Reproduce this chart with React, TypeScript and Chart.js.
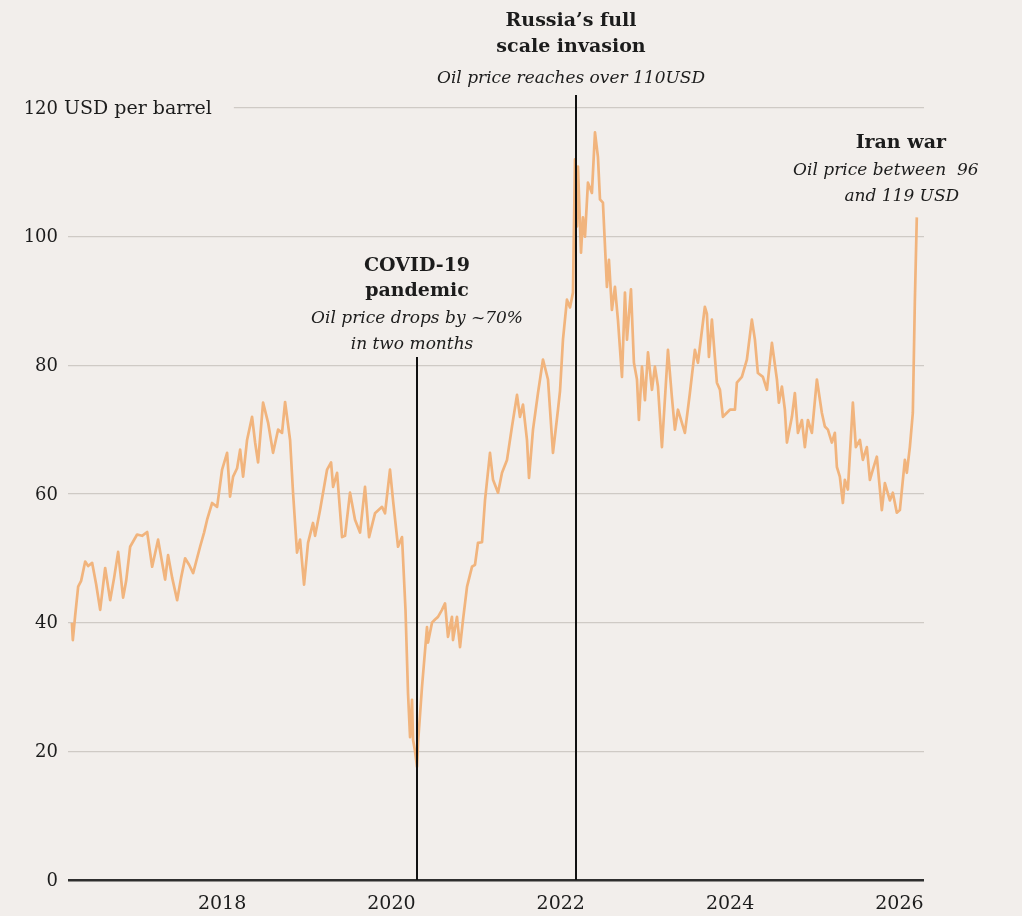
import React, { useEffect, useRef } from "react";
import { Chart, registerables } from "chart.js";

Chart.register(...registerables);

// ---- DATA (weekly-ish oil price, USD per barrel) ----
const dates: number[] = [
  2016.226, 2016.237, 2016.264, 2016.300, 2016.335, 2016.383, 2016.418, 2016.465, 2016.512, 2016.560,
  2016.619, 2016.678, 2016.725, 2016.772, 2016.831, 2016.867, 2016.914, 2016.996, 2017.055, 2017.115,
  2017.174, 2017.244, 2017.327, 2017.362, 2017.410, 2017.469, 2017.516, 2017.563, 2017.610, 2017.658,
  2017.740, 2017.787, 2017.823, 2017.882, 2017.941, 2018.000, 2018.059, 2018.094, 2018.130, 2018.177,
  2018.213, 2018.248, 2018.295, 2018.354, 2018.390, 2018.425, 2018.484, 2018.543, 2018.602, 2018.661,
  2018.708, 2018.744, 2018.803, 2018.838, 2018.885, 2018.921, 2018.968, 2019.015, 2019.074, 2019.098,
  2019.157, 2019.240, 2019.287, 2019.311, 2019.358, 2019.417, 2019.452, 2019.511, 2019.570, 2019.629,
  2019.688, 2019.736, 2019.806, 2019.889, 2019.924, 2019.983, 2020.019, 2020.078, 2020.125, 2020.166,
  2020.196, 2020.220, 2020.243, 2020.255, 2020.279, 2020.302, 2020.314, 2020.361, 2020.420, 2020.432,
  2020.479, 2020.515, 2020.550, 2020.597, 2020.633, 2020.668, 2020.715, 2020.727, 2020.774, 2020.810,
  2020.845, 2020.893, 2020.952, 2020.987, 2021.022, 2021.070, 2021.105, 2021.164, 2021.200, 2021.259,
  2021.306, 2021.365, 2021.424, 2021.483, 2021.518, 2021.554, 2021.601, 2021.625, 2021.672, 2021.731,
  2021.790, 2021.849, 2021.908, 2021.967, 2021.991, 2022.026, 2022.073, 2022.109, 2022.144, 2022.168,
  2022.191, 2022.203, 2022.239, 2022.262, 2022.286, 2022.321, 2022.368, 2022.404, 2022.439, 2022.463,
  2022.498, 2022.545, 2022.569, 2022.604, 2022.640, 2022.675, 2022.723, 2022.758, 2022.782, 2022.829,
  2022.864, 2022.900, 2022.923, 2022.959, 2022.994, 2023.030, 2023.077, 2023.112, 2023.148, 2023.195,
  2023.266, 2023.313, 2023.348, 2023.384, 2023.466, 2023.525, 2023.584, 2023.620, 2023.702, 2023.726,
  2023.750, 2023.785, 2023.844, 2023.880, 2023.915, 2023.998, 2024.057, 2024.080, 2024.139, 2024.198,
  2024.257, 2024.293, 2024.328, 2024.387, 2024.435, 2024.494, 2024.553, 2024.576, 2024.612, 2024.647,
  2024.671, 2024.730, 2024.765, 2024.801, 2024.848, 2024.883, 2024.919, 2024.966, 2025.025, 2025.084,
  2025.119, 2025.155, 2025.202, 2025.237, 2025.261, 2025.296, 2025.332, 2025.355, 2025.391, 2025.450,
  2025.485, 2025.533, 2025.568, 2025.615, 2025.651, 2025.686, 2025.733, 2025.792, 2025.828, 2025.887,
  2025.922, 2025.969, 2026.005, 2026.064, 2026.087, 2026.123, 2026.158, 2026.182, 2026.205,
];

const prices: number[] = [
  40, 37.3, 41, 45.6, 46.5, 49.5, 48.8, 49.3, 46, 42,
  48.5, 43.5, 47, 51, 43.9, 46.5, 51.8, 53.7, 53.5, 54.1,
  48.7, 52.9, 46.7, 50.5, 47, 43.5, 47, 50, 49, 47.7,
  51.8, 54, 56, 58.6, 58, 63.8, 66.4, 59.6, 62.7, 64,
  66.9, 62.7, 68.4, 72, 68, 64.9, 74.2, 71.1, 66.4, 70,
  69.5, 74.3, 68.4, 60.2, 50.9, 52.9, 45.9, 52.4, 55.5, 53.5,
  57.5, 63.8, 64.9, 61.1, 63.3, 53.3, 53.5, 60.2, 56, 54,
  61.1, 53.3, 57, 58, 57, 63.8, 59, 51.8, 53.3, 42,
  29, 22.2, 28, 21.8, 20, 17.6, 21.3, 30, 39.3, 36.9,
  40, 40.5, 40.9, 42, 43, 37.8, 40.9, 37.3, 40.9, 36.2,
  40.4, 45.6, 48.7, 49, 52.4, 52.5, 59, 66.4, 62.2, 60.2,
  63.3, 65.3, 70.5, 75.4, 72, 73.9, 68.4, 62.5, 70, 75.7,
  80.9, 77.8, 66.4, 73.1, 76, 84, 90.2, 89, 91.3, 112,
  101.6, 110.9, 97.5, 103, 100, 108.4, 106.8, 116.2, 112.4, 105.8,
  105.3, 92.2, 96.4, 88.6, 92.2, 87.1, 78.2, 91.3, 84, 91.8,
  80.4, 77.8, 71.5, 79.8, 74.6, 82, 76.2, 79.8, 76.7, 67.3,
  82.4, 75, 70, 73.1, 69.5, 75.7, 82.4, 80.4, 89.1, 88,
  81.3, 87.1, 77.3, 76.2, 72, 73.1, 73.1, 77.3, 78.2, 80.9,
  87.1, 84, 78.8, 78.2, 76.2, 83.5, 77.8, 74.2, 76.7, 73.1,
  68, 72, 75.7, 69.5, 71.5, 67.3, 71.5, 69.5, 77.8, 72.6,
  70.5, 70, 68, 69.5, 64.2, 62.7, 58.6, 62.2, 60.7, 74.2,
  67.3, 68.4, 65.3, 67.3, 62.2, 63.8, 65.8, 57.5, 61.7, 59,
  60.2, 57.1, 57.5, 65.3, 63.3, 67.3, 72.6, 90, 103,
];

const yTicks: number[] = [0, 20, 40, 60, 80, 100, 120];
const yearTicks: number[] = [2018, 2020, 2022, 2024, 2026];
const yUnit = "USD per barrel";

const eventDates: number[] = [2020.302, 2022.18];

// ---- STYLE ----
const BG = "#f2eeeb";
const LINE = "#f1b47d";
const GRID = "#cfcac5";
const TEXT = "#1c1c1c";
const FONT = '"DejaVu Serif", "Liberation Serif", serif';

type AnnLine = { text: string; bold: boolean; dx: number; y: number };
type Ann = { anchor: number; lineTop: number | null; lines: AnnLine[] };

const annotations: Ann[] = [
  {
    anchor: eventDates[0],
    lineTop: 357,
    lines: [
      { text: "COVID-19", bold: true, dx: 0, y: 271 },
      { text: "pandemic", bold: true, dx: 0, y: 296 },
      { text: "Oil price drops by ~70%", bold: false, dx: 0, y: 323 },
      { text: "in two months", bold: false, dx: -5, y: 349 },
    ],
  },
  {
    anchor: eventDates[1],
    lineTop: 95,
    lines: [
      { text: "Russia\u2019s full", bold: true, dx: -5, y: 26 },
      { text: "scale invasion", bold: true, dx: -5, y: 52 },
      { text: "Oil price reaches over 110USD", bold: false, dx: -5, y: 83 },
    ],
  },
  {
    anchor: 2026.205,
    lineTop: null,
    lines: [
      { text: "Iran war", bold: true, dx: -16, y: 148 },
      { text: "Oil price between  96", bold: false, dx: -31, y: 175 },
      { text: "and 119 USD", bold: false, dx: -15, y: 201 },
    ],
  },
];

const overlay = {
  id: "overlay",
  beforeDraw(chart: any) {
    const { ctx, width, height } = chart;
    ctx.save();
    ctx.fillStyle = BG;
    ctx.fillRect(0, 0, width, height);
    ctx.restore();
  },
  afterDraw(chart: any) {
    const { ctx, chartArea } = chart;
    const x = chart.scales.x;
    const y = chart.scales.y;
    ctx.save();
    // y labels
    ctx.fillStyle = TEXT;
    ctx.textBaseline = "middle";
    const labelRight = chartArea.left - 10;
    yTicks.forEach((v, i) => {
      const py = y.getPixelForValue(v);
      const num = String(v);
      ctx.font = `18px ${FONT}`;
      if (i === yTicks.length - 1) {
        ctx.font = `19px ${FONT}`;
        const unitText = " " + yUnit;
        const unitW = ctx.measureText(unitText).width;
        ctx.fillStyle = BG;
        ctx.fillRect(chartArea.left - 2, py - 12, labelRight + unitW - chartArea.left + 24, 24);
        ctx.fillStyle = TEXT;
        ctx.font = `18px ${FONT}`;
        ctx.textAlign = "right";
        ctx.fillText(num, labelRight, py + 1);
        ctx.font = `19px ${FONT}`;
        ctx.textAlign = "left";
        ctx.fillText(unitText, labelRight, py + 1);
      } else {
        ctx.textAlign = "right";
        ctx.fillText(num, labelRight, py + 1);
      }
    });
    // x labels
    ctx.font = `19px ${FONT}`;
    ctx.textAlign = "center";
    ctx.textBaseline = "middle";
    yearTicks.forEach((v) => {
      ctx.fillText(String(v), x.getPixelForValue(v), chartArea.bottom + 24);
    });
    // event lines
    ctx.strokeStyle = "#111";
    ctx.lineWidth = 2;
    annotations.forEach((a) => {
      if (a.lineTop === null) return;
      const px = Math.round(x.getPixelForValue(a.anchor));
      ctx.beginPath();
      ctx.moveTo(px, a.lineTop);
      ctx.lineTo(px, chartArea.bottom);
      ctx.stroke();
    });
    // annotation text
    ctx.textAlign = "center";
    ctx.textBaseline = "alphabetic";
    annotations.forEach((a) => {
      const px = x.getPixelForValue(a.anchor);
      a.lines.forEach((l) => {
        ctx.font = l.bold ? `bold 19px ${FONT}` : `italic 17px ${FONT}`;
        ctx.fillStyle = TEXT;
        ctx.fillText(l.text, px + l.dx, l.y);
      });
    });
    ctx.restore();
  },
};

export default function App() {
  const ref = useRef<HTMLCanvasElement | null>(null);
  useEffect(() => {
    document.body.style.margin = "0";
    document.body.style.background = BG;
    const canvas = ref.current;
    if (!canvas) return;
    const points = dates.map((d, i) => ({ x: d, y: prices[i] }));
    const chart = new Chart(canvas, {
      type: "line",
      data: {
        datasets: [
          {
            data: points,
            borderColor: LINE,
            borderWidth: 2.7,
            pointRadius: 0,
            tension: 0,
            borderJoinStyle: "round",
            fill: false,
          },
        ],
      },
      options: {
        animation: false,
        responsive: false,
        devicePixelRatio: 1,
        layout: { padding: { left: 68, right: 98, top: 108, bottom: 36 } },
        plugins: { legend: { display: false }, tooltip: { enabled: false } },
        scales: {
          x: {
            type: "linear",
            min: 2016.18,
            max: 2026.29,
            display: true,
            grid: { display: false, drawTicks: false },
            border: { display: false },
            ticks: { display: false },
            afterBuildTicks: (s: any) => {
              s.ticks = yearTicks.map((v) => ({ value: v }));
            },
          },
          y: {
            type: "linear",
            min: 0,
            max: 120,
            display: true,
            border: { display: false },
            ticks: { display: false, stepSize: 20 },
            afterBuildTicks: (s: any) => {
              s.ticks = yTicks.map((v) => ({ value: v }));
            },
            grid: {
              drawTicks: false,
              color: (c: any) => (c.tick && c.tick.value === 0 ? "#2e2e2e" : GRID),
              lineWidth: (c: any) => (c.tick && c.tick.value === 0 ? 2.5 : 1.3),
            },
          },
        },
      },
      plugins: [overlay],
    } as any);
    return () => chart.destroy();
  }, []);
  return <canvas ref={ref} width={1022} height={916} style={{ display: "block" }} />;
}
